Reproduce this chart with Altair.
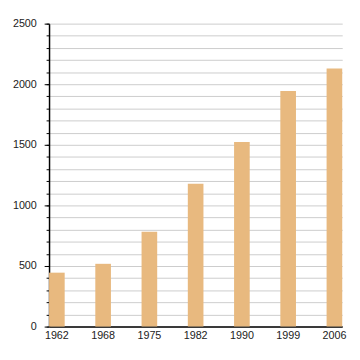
import altair as alt
import pandas as pd

years = ["1962", "1968", "1975", "1982", "1990", "1999", "2006"]
values = [445, 518, 783, 1178, 1524, 1944, 2130]

df = pd.DataFrame({"year": years, "value": values})

minor_vals = list(range(0, 2501, 100))
major_vals = list(range(0, 2501, 500))

x_enc = alt.X("year:N", sort=years, title=None,
              scale=alt.Scale(paddingInner=0.662, paddingOuter=0),
              axis=alt.Axis(labelAngle=0, ticks=False, domainColor="black",
                            domainWidth=1.5, labelFont="Liberation Sans",
                            labelFontSize=11, labelColor="#222", labelPadding=3,
                            grid=False))

yscale = alt.Scale(domain=[0, 2500], nice=False)

minor = alt.Chart(df).mark_bar(color="#E8B97F", opacity=0).encode(
    x=x_enc,
    y=alt.Y("value:Q", scale=yscale, title=None,
            axis=alt.Axis(orient="left", values=minor_vals, labels=False,
                          tickSize=3, tickColor="black", domain=False,
                          gridColor="#cccccc", gridWidth=1)),
)

bars = alt.Chart(df).mark_bar(color="#E8B97F").encode(
    x=x_enc,
    y=alt.Y("value:Q", scale=yscale, title=None,
            axis=alt.Axis(orient="left", values=major_vals, format="d",
                          tickSize=5, tickColor="black", domainColor="black",
                          domainWidth=1.5, gridColor="#999999", gridWidth=1,
                          labelFont="Liberation Sans", labelFontSize=11,
                          labelColor="#222", labelPadding=8)),
)

chart = alt.layer(minor, bars).resolve_axis(y="independent").properties(
    width=300, height=310,
    autosize=alt.AutoSizeParams(type="none"),
    padding={"left": 42, "top": 12, "right": 10, "bottom": 22},
).configure_view(stroke=None)

chart.save("out.html", embed_options={"renderer": "svg", "actions": False})
